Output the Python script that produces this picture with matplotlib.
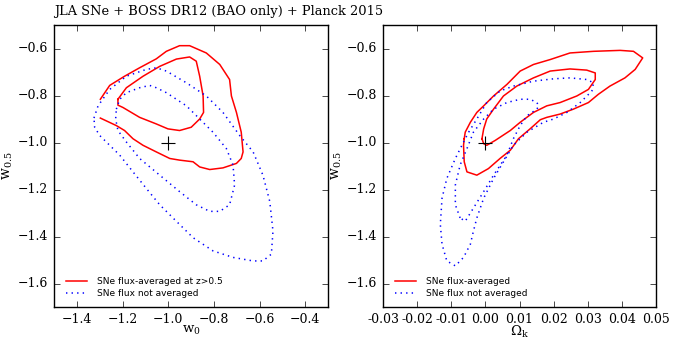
#!/usr/bin/env python
# w0 / w0.5 / Omega_k contours, SNe flux-averaged vs not averaged
import numpy as np
import matplotlib
matplotlib.use('Agg')
import matplotlib.pyplot as plt

plt.style.use('classic')
plt.rcParams['font.family'] = 'serif'
plt.rcParams['font.serif'] = ['DejaVu Serif']
plt.rcParams['mathtext.fontset'] = 'dejavuserif'

fontsize = 9
title = 'JLA SNe + BOSS DR12 (BAO only) + Planck 2015'

# left panel: w0 vs w0.5
w0_red_outer = [-1.297, -1.227, -1.191, -1.154, -1.110, -1.052, -0.993, -0.950, -0.891, -0.862,
                -0.818, -0.760, -0.701, -0.680, -0.672, -0.680, -0.701, -0.723, -0.731, -0.774,
                -0.833, -0.906, -0.950, -1.008, -1.052, -1.125, -1.191, -1.256, -1.297]
wa_red_outer = [-0.896, -0.928, -0.949, -0.984, -1.012, -1.040, -1.068, -1.075, -1.082, -1.104,
                -1.115, -1.108, -1.089, -1.068, -1.040, -0.956, -0.872, -0.802, -0.732, -0.668,
                -0.619, -0.588, -0.588, -0.612, -0.644, -0.682, -0.718, -0.757, -0.816]
w0_red_inner = [-1.220, -1.183, -1.110, -1.037, -0.964, -0.906, -0.877, -0.862, -0.847, -0.845,
                -0.862, -0.899, -0.950, -1.001, -1.052, -1.125, -1.198, -1.220, -1.220]
wa_red_inner = [-0.816, -0.767, -0.718, -0.676, -0.645, -0.636, -0.654, -0.718, -0.802, -0.872,
                -0.900, -0.935, -0.949, -0.942, -0.921, -0.893, -0.851, -0.841, -0.816]
w0_blue_outer = [-1.325, -1.307, -1.256, -1.183, -1.096, -1.052, -1.008, -0.920, -0.833, -0.760,
                 -0.687, -0.628, -0.585, -0.555, -0.541, -0.548, -0.585, -0.628, -0.716, -0.804,
                 -0.891, -0.979, -1.037, -1.096, -1.154, -1.212, -1.256, -1.300, -1.322, -1.325]
wa_blue_outer = [-0.896, -0.844, -0.774, -0.718, -0.689, -0.682, -0.696, -0.746, -0.802, -0.872,
                 -0.970, -1.040, -1.139, -1.251, -1.377, -1.475, -1.504, -1.504, -1.489, -1.461,
                 -1.405, -1.321, -1.265, -1.195, -1.125, -1.054, -1.012, -0.970, -0.935, -0.896]
w0_blue_inner = [-1.227, -1.212, -1.183, -1.125, -1.081, -1.052, -1.008, -0.920, -0.862, -0.804,
                 -0.745, -0.716, -0.709, -0.731, -0.774, -0.818, -0.877, -0.950, -1.037, -1.125,
                 -1.183, -1.220, -1.230, -1.227]
wa_blue_inner = [-0.858, -0.816, -0.788, -0.767, -0.757, -0.767, -0.788, -0.844, -0.900, -0.956,
                 -1.026, -1.096, -1.181, -1.265, -1.293, -1.293, -1.265, -1.209, -1.139, -1.068,
                 -0.998, -0.949, -0.900, -0.858]

# right panel: Omega_k vs w0.5
ok_red_outer = [-0.0062, -0.0059, -0.0044, -0.0025, -0.0005, 0.0024, 0.0063, 0.0102, 0.0141, 0.0190,
                0.0248, 0.0317, 0.0395, 0.0434, 0.0461, 0.0439, 0.0409, 0.0365, 0.0331, 0.0302,
                0.0258, 0.0219, 0.0180, 0.0161, 0.0131, 0.0097, 0.0073, 0.0043, 0.0009, -0.0025,
                -0.0054, -0.0062, -0.0064, -0.0062]
wb_red_outer = [-0.984, -0.956, -0.914, -0.872, -0.844, -0.802, -0.753, -0.696, -0.668, -0.647,
                -0.619, -0.612, -0.608, -0.612, -0.640, -0.689, -0.725, -0.760, -0.795, -0.830,
                -0.858, -0.879, -0.893, -0.903, -0.942, -0.984, -1.033, -1.068, -1.111, -1.139,
                -1.125, -1.082, -1.012, -0.984]
ok_red_inner = [-0.0010, -0.0005, 0.0004, 0.0024, 0.0053, 0.0092, 0.0141, 0.0190, 0.0248, 0.0297,
                0.0322, 0.0322, 0.0302, 0.0268, 0.0219, 0.0180, 0.0141, 0.0102, 0.0073, 0.0029,
                0.0004, -0.0005, -0.0010]
wb_red_inner = [-0.984, -0.942, -0.900, -0.858, -0.802, -0.760, -0.725, -0.696, -0.687, -0.692,
                -0.704, -0.732, -0.774, -0.802, -0.830, -0.844, -0.872, -0.914, -0.949, -0.991,
                -1.012, -1.005, -0.984]
ok_blue_outer = [-0.0049, -0.0025, 0.0004, 0.0043, 0.0082, 0.0141, 0.0200, 0.0248, 0.0297, 0.0317,
                 0.0312, 0.0278, 0.0239, 0.0200, 0.0170, 0.0122, 0.0082, 0.0053, 0.0024, -0.0005,
                 -0.0025, -0.0035, -0.0044, -0.0064, -0.0088, -0.0113, -0.0127, -0.0132, -0.0127,
                 -0.0113, -0.0088, -0.0064, -0.0049]
wb_blue_outer = [-0.956, -0.900, -0.830, -0.781, -0.760, -0.739, -0.729, -0.725, -0.732, -0.746,
                 -0.781, -0.830, -0.872, -0.900, -0.914, -0.956, -1.012, -1.082, -1.153, -1.237,
                 -1.321, -1.377, -1.433, -1.489, -1.525, -1.504, -1.433, -1.349, -1.237, -1.153,
                 -1.068, -0.998, -0.956]
ok_blue_inner = [-0.0074, -0.0088, -0.0088, -0.0074, -0.0054, -0.0035, -0.0005, 0.0024, 0.0063,
                 0.0102, 0.0131, 0.0151, 0.0156, 0.0151, 0.0122, 0.0102, 0.0082, 0.0063, 0.0024,
                 -0.0005, -0.0035, -0.0059, -0.0074]
wb_blue_inner = [-1.321, -1.265, -1.181, -1.096, -1.026, -0.956, -0.900, -0.858, -0.830, -0.816,
                 -0.816, -0.830, -0.844, -0.858, -0.886, -0.928, -0.984, -1.054, -1.139, -1.209,
                 -1.279, -1.335, -1.321]

fiducial_left = (-1.0, -1.0)
fiducial_right = (0.0, -1.0)
yticks = [-1.6, -1.4, -1.2, -1.0, -0.8, -0.6]
xticks_left = [-1.4, -1.2, -1.0, -0.8, -0.6, -0.4]
xticks_right = [-0.03, -0.02, -0.01, 0.00, 0.01, 0.02, 0.03, 0.04, 0.05]


def draw_panel(ax, red, blue, fid, xlim, xticks, xlabel, red_label):
  ax.plot(red[0][0], red[0][1], color='red', lw=1.1, label=red_label)
  ax.plot(red[1][0], red[1][1], color='red', lw=1.1)
  ax.plot(blue[0][0], blue[0][1], color='blue', lw=1.1, ls=':',
      label='SNe flux not averaged')
  ax.plot(blue[1][0], blue[1][1], color='blue', lw=1.1, ls=':')
  ax.plot([fid[0]], [fid[1]], marker='+', color='k', ms=10, mew=0.8, ls='none')
  ax.set_xlim(xlim)
  ax.set_ylim(-1.7, -0.5)
  ax.set_xticks(xticks)
  ax.set_yticks(yticks)
  ax.set_xlabel(xlabel, fontsize=9.5, labelpad=-1)
  ax.set_ylabel(r'$\mathrm{w}_{0.5}$', fontsize=10, labelpad=2)
  ax.tick_params(axis='both', which='major', labelsize=fontsize, direction='in',
      top=True, right=True, length=4, pad=4)
  ax.minorticks_off()
  ax.legend(loc='lower left', frameon=False,
      prop={'family': 'DejaVu Sans', 'size': 6.5}, handlelength=3,
      labelspacing=0.3, borderaxespad=0.6)


fig = plt.figure(figsize=(6.85, 3.43), dpi=100, facecolor='white')
ax1 = fig.add_axes([54/685., 36/343., 274/685., 282/343.])
ax2 = fig.add_axes([383/685., 36/343., 273/685., 282/343.])

draw_panel(ax1,
    [(w0_red_outer, wa_red_outer), (w0_red_inner, wa_red_inner)],
    [(w0_blue_outer, wa_blue_outer), (w0_blue_inner, wa_blue_inner)],
    fiducial_left, (-1.5, -0.3), xticks_left, r'$\mathrm{w}_0$',
    'SNe flux-averaged at z>0.5')
draw_panel(ax2,
    [(ok_red_outer, wb_red_outer), (ok_red_inner, wb_red_inner)],
    [(ok_blue_outer, wb_blue_outer), (ok_blue_inner, wb_blue_inner)],
    fiducial_right, (-0.03, 0.05), xticks_right, r'$\Omega_\mathrm{k}$',
    'SNe flux-averaged')
ax2.set_xticklabels(['%.2f' % t for t in xticks_right])

ax1.text(0.0, 1.025, title, transform=ax1.transAxes, fontsize=9.4,
    ha='left', va='bottom')

fig.savefig('out.png', dpi=100, facecolor='white')
